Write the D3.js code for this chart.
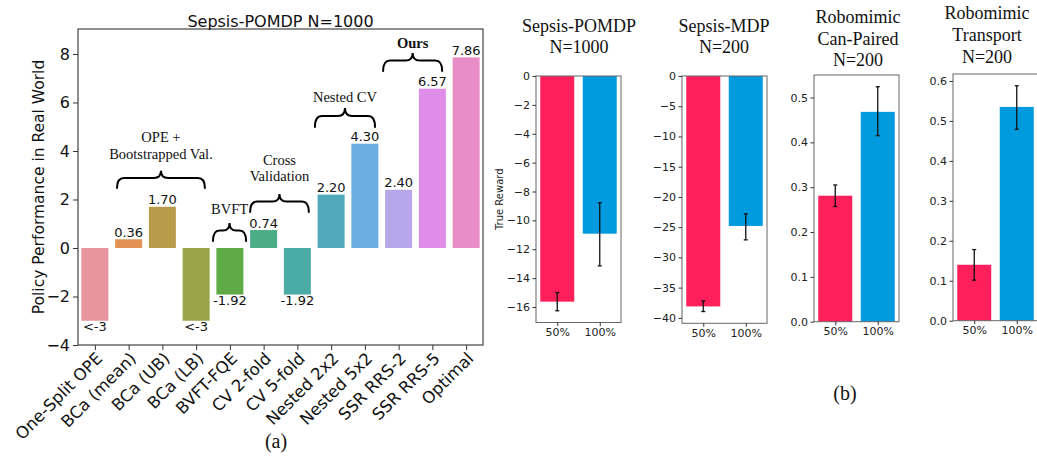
<!DOCTYPE html>
<html><head><meta charset="utf-8">
<script src="https://cdn.jsdelivr.net/npm/d3@7"></script>
<style>
html,body{margin:0;padding:0;background:#fff;}
svg{display:block;}
</style></head>
<body>
<svg id="chart" width="1037" height="456"></svg>
<script>
// ---------------- DATA ----------------
const categoriesA = ["One-Split OPE","BCa (mean)","BCa (UB)","BCa (LB)","BVFT-FQE","CV 2-fold","CV 5-fold","Nested 2x2","Nested 5x2","SSR RRS-2","SSR RRS-5","Optimal"];
const valuesA = [-3, 0.36, 1.70, -3, -1.92, 0.74, -1.92, 2.20, 4.30, 2.40, 6.57, 7.86];
const valueLabelsA = ["<-3","0.36","1.70","<-3","-1.92","0.74","-1.92","2.20","4.30","2.40","6.57","7.86"];
const yTicksA = [-4,-2,0,2,4,6,8];
const titleA = "Sepsis-POMDP N=1000";
const yLabelA = "Policy Performance in Real World";
const groupNames = [["OPE +","Bootstrapped Val."],["BVFT"],["Cross","Validation"],["Nested CV"],["Ours"]];

const panelTitles = [["Sepsis-POMDP","N=1000"],["Sepsis-MDP","N=200"],["Robomimic","Can-Paired","N=200"],["Robomimic","Transport","N=200"]];
const fractions = ["50%","100%"];
const panelMeans = [[-15.63,-10.92],[-38.1,-24.8],[0.281,0.468],[0.140,0.535]];
const panelLow   = [[-16.26,-13.15],[-38.95,-27.1],[0.257,0.415],[0.1015,0.479]];
const panelHigh  = [[-15.0,-8.78],[-37.2,-22.8],[0.305,0.524],[0.178,0.588]];
const panelTicks = [[0,-2,-4,-6,-8,-10,-12,-14,-16],[0,-5,-10,-15,-20,-25,-30,-35,-40],[0,0.1,0.2,0.3,0.4,0.5],[0,0.1,0.2,0.3,0.4,0.5,0.6]];
const panelYLabel = "True Reward";
const captions = ["(a)","(b)"];

// ---------------- STYLE / LAYOUT ----------------
const paletteA = ['#e8959f','#e39154','#b99c4a','#9aa348','#5fac47','#4aad85','#4baba5','#4fa9ba','#6aade0','#b6a6ea','#df8de8','#e98dc6'];
const fracColors = ['#FF1F5B','#009ADE'];
const sans = "DejaVu Sans";
const serif = "Liberation Serif";
const svg = d3.select("#chart");
const minus = s => s.replace(/-/g, "\u2212");

// ---------- Chart (a) ----------
const A = {left:78, right:483, top:29, bottom:345};
const xA = d3.scaleLinear().domain([-0.5, categoriesA.length - 0.5]).range([A.left, A.right]);
const yA = d3.scaleLinear().domain([-4, 9.03]).range([A.bottom, A.top]);
const bwA = 0.8;
const gA = svg.append("g");

gA.selectAll("rect.bar").data(valuesA).join("rect")
  .attr("x", (d,i) => xA(i - bwA/2))
  .attr("width", (d,i) => xA(i + bwA/2) - xA(i - bwA/2))
  .attr("y", d => yA(Math.max(0,d)))
  .attr("height", d => Math.abs(yA(d) - yA(0)))
  .attr("fill", (d,i) => paletteA[i]);

// value labels
gA.selectAll("text.val").data(valuesA).join("text")
  .attr("x", (d,i) => xA(i))
  .attr("y", d => d >= 0 ? yA(d) - 2.5 : yA(d) + 1)
  .attr("dominant-baseline", d => d >= 0 ? "auto" : "hanging")
  .attr("text-anchor","middle")
  .attr("font-family", sans).attr("font-size", 13).attr("fill","#111")
  .text((d,i) => valueLabelsA[i]);

// frame
gA.append("rect").attr("x",A.left).attr("y",A.top).attr("width",A.right-A.left).attr("height",A.bottom-A.top)
  .attr("fill","none").attr("stroke","#444").attr("stroke-width",1.2);

// y axis ticks
const yAxisA = d3.axisLeft(yA).tickValues(yTicksA).tickSize(5).tickPadding(3).tickFormat(d => minus(String(d)));
const gyA = gA.append("g").attr("transform",`translate(${A.left},0)`).call(yAxisA);
gyA.select(".domain").remove();
gyA.selectAll("text").attr("font-family",sans).attr("font-size",16).attr("fill","#111");
gyA.selectAll("line").attr("stroke","#333");

// x axis ticks
const xAxisA = d3.axisBottom(xA).tickValues(d3.range(categoriesA.length)).tickSize(5).tickFormat("");
const gxA = gA.append("g").attr("transform",`translate(0,${A.bottom})`).call(xAxisA);
gxA.select(".domain").remove();
gxA.selectAll("line").attr("stroke","#333");
gA.selectAll("text.xl").data(categoriesA).join("text")
  .attr("transform",(d,i) => `translate(${xA(i)},${A.bottom+6}) rotate(-45)`)
  .attr("text-anchor","end").attr("dominant-baseline","hanging")
  .attr("font-family",sans).attr("font-size",16.5).attr("fill","#111")
  .text(d => d);

// title and y label
gA.append("text").attr("x",(A.left+A.right)/2).attr("y",21).attr("text-anchor","middle").attr("dominant-baseline","central")
  .attr("font-family",sans).attr("font-size",16).attr("fill","#111").text(titleA);
gA.append("text").attr("transform",`translate(39,${(A.top+A.bottom)/2}) rotate(-90)`).attr("text-anchor","middle").attr("dominant-baseline","central")
  .attr("font-family",sans).attr("font-size",15.5).attr("fill","#111").text(yLabelA);

// group braces (positions in category-index and data units)
const braceLayout = [
  {x1:1.156, x2:3.76, tip:3.18, end:2.47, text:[4.58,3.88], bold:false},
  {x1:4.0,   x2:4.98, tip:1.03, end:0.29, text:[1.6], bold:false},
  {x1:5.1,   x2:6.84, tip:2.23, end:1.48, text:[3.63,2.97], bold:false},
  {x1:7.02,  x2:8.8,  tip:5.77, end:4.99, text:[6.23], bold:false},
  {x1:9.04,  x2:10.79,tip:8.04, end:7.3,  text:[8.45], bold:true}
];
function bracePath(x1,x2,yT,yE){
  const xc=(x1+x2)/2, yM=yT+0.42*(yE-yT), r=Math.min(7,(x2-x1)/5);
  return `M${x1},${yE} Q${x1},${yM} ${x1+r},${yM} L${xc-r},${yM} Q${xc},${yM} ${xc},${yT} Q${xc},${yM} ${xc+r},${yM} L${x2-r},${yM} Q${x2},${yM} ${x2},${yE}`;
}
braceLayout.forEach((b,k) => {
  const px1 = xA(b.x1 - 0.5) , px2 = xA(b.x2 - 0.5);
  gA.append("path").attr("d", bracePath(px1,px2,yA(b.tip),yA(b.end)))
    .attr("fill","none").attr("stroke","#000").attr("stroke-width",2).attr("stroke-linecap","round");
  groupNames[k].forEach((t,j) => {
    gA.append("text").attr("x",(px1+px2)/2).attr("y",yA(b.text[j])).attr("text-anchor","middle").attr("dominant-baseline","central")
      .attr("font-family",serif).attr("font-size",14.5).attr("font-weight",b.bold?"bold":"normal").attr("fill","#111").text(t);
  });
});

// caption (a)
svg.append("text").attr("x",276).attr("y",441).attr("text-anchor","middle").attr("dominant-baseline","central")
  .attr("font-family",serif).attr("font-size",20).attr("fill","#111").text(captions[0]);

// ---------- Panels (b) ----------
const panelBoxes = [
  {left:536, right:621, top:76,   bottom:322.5, tx:579, ty:[26,47]},
  {left:682, right:767, top:76,   bottom:323.3, tx:724, ty:[26,47]},
  {left:814, right:899, top:75,   bottom:321.7, tx:858, ty:[17,39,60]},
  {left:953, right:1038,top:74,   bottom:320.7, tx:987, ty:[13,35,57]}
];
panelBoxes.forEach((B,p) => {
  const g = svg.append("g");
  const lo = d3.min(panelLow[p]), hi = d3.max(panelHigh[p]);
  const dom = lo < 0 ? [lo*1.05, 0] : [0, hi*1.05];
  const y = d3.scaleLinear().domain(dom).range([B.bottom, B.top]);
  const x = d3.scaleLinear().domain([-0.5, 1.5]).range([B.left, B.right]);
  g.selectAll("rect.bar").data(panelMeans[p]).join("rect")
    .attr("x",(d,i)=>x(i-0.4)).attr("width",(d,i)=>x(i+0.4)-x(i-0.4))
    .attr("y",d=>y(Math.max(0,d))).attr("height",d=>Math.abs(y(d)-y(0)))
    .attr("fill",(d,i)=>fracColors[i]);
  // error bars
  panelMeans[p].forEach((m,i) => {
    const cx = x(i);
    g.append("line").attr("x1",cx).attr("x2",cx).attr("y1",y(panelLow[p][i])).attr("y2",y(panelHigh[p][i])).attr("stroke","#111").attr("stroke-width",1.3);
    [panelLow[p][i],panelHigh[p][i]].forEach(v => g.append("line").attr("x1",cx-2).attr("x2",cx+2).attr("y1",y(v)).attr("y2",y(v)).attr("stroke","#111").attr("stroke-width",1.3));
  });
  g.append("rect").attr("x",B.left).attr("y",B.top).attr("width",B.right-B.left).attr("height",B.bottom-B.top)
    .attr("fill","none").attr("stroke","#666").attr("stroke-width",1);
  const fmt = lo < 0 ? (d => minus(String(d))) : d3.format(".1f");
  const gy = g.append("g").attr("transform",`translate(${B.left},0)`).call(d3.axisLeft(y).tickValues(panelTicks[p]).tickSize(3.5).tickPadding(2.5).tickFormat(fmt));
  gy.select(".domain").remove();
  gy.selectAll("text").attr("font-family",sans).attr("font-size",11).attr("fill","#222");
  gy.selectAll("line").attr("stroke","#333");
  const gx = g.append("g").attr("transform",`translate(0,${B.bottom})`).call(d3.axisBottom(x).tickValues([0,1]).tickSize(3.5).tickPadding(2.5).tickFormat(i=>fractions[i]));
  gx.select(".domain").remove();
  gx.selectAll("text").attr("font-family",sans).attr("font-size",11).attr("fill","#222");
  gx.selectAll("line").attr("stroke","#333");
  panelTitles[p].forEach((t,j) => {
    g.append("text").attr("x",B.tx).attr("y",B.ty[j]).attr("text-anchor","middle").attr("dominant-baseline","central")
      .attr("font-family",serif).attr("font-size",18).attr("fill","#111").text(t);
  });
  if (p === 0) {
    g.append("text").attr("transform",`translate(499,${(B.top+B.bottom)/2}) rotate(-90)`).attr("text-anchor","middle").attr("dominant-baseline","central")
      .attr("font-family",sans).attr("font-size",10).attr("fill","#222").text(panelYLabel);
  }
});
svg.append("text").attr("x",845).attr("y",393).attr("text-anchor","middle").attr("dominant-baseline","central")
  .attr("font-family",serif).attr("font-size",20).attr("fill","#111").text(captions[1]);
</script>
</body></html>
